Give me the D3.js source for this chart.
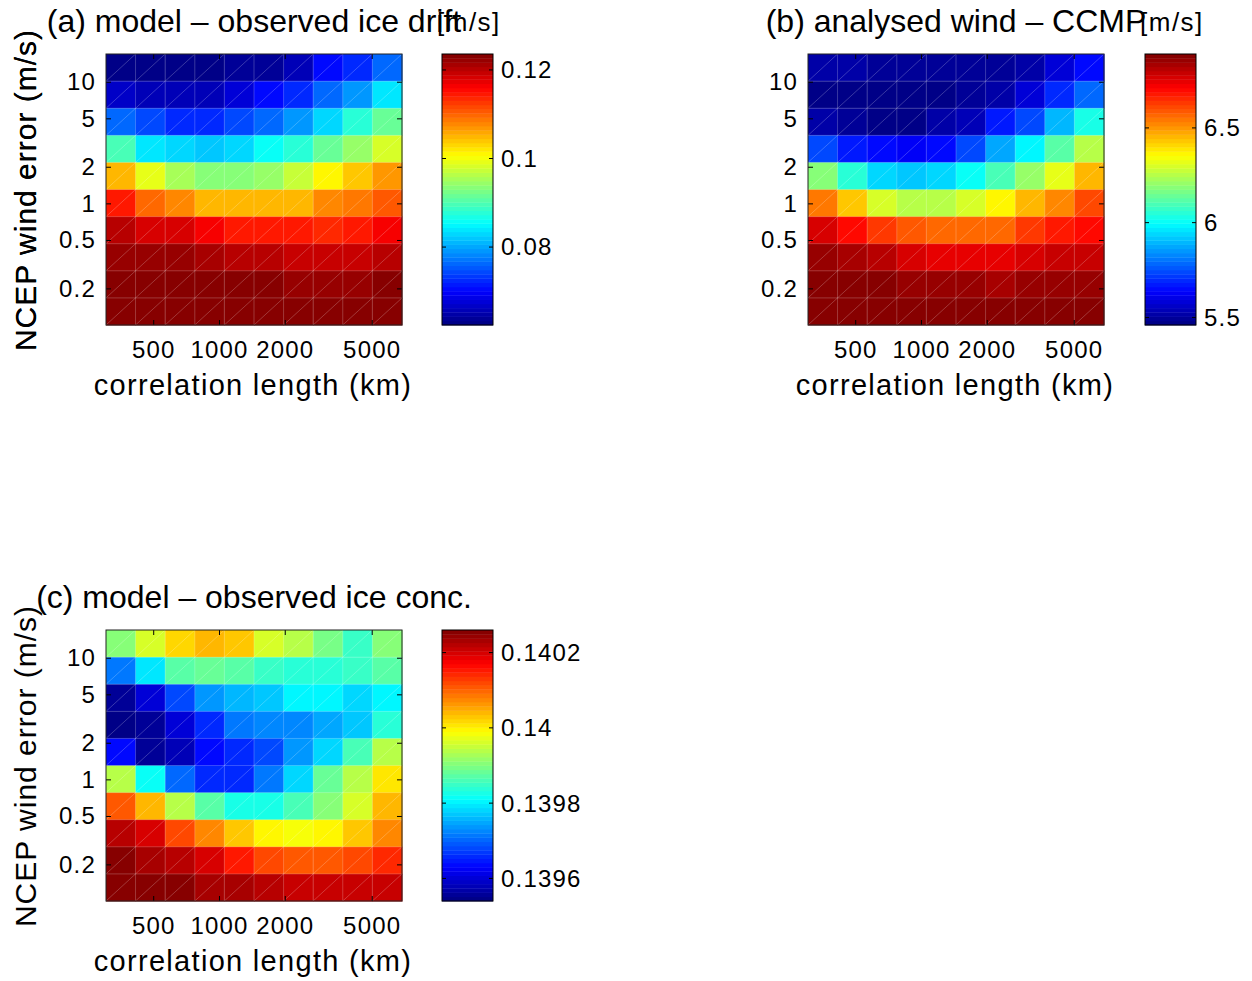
<!DOCTYPE html>
<html>
<head>
<meta charset="utf-8">
<script src="https://cdn.jsdelivr.net/npm/d3@7"></script>
<style>
body { margin: 0; background: #fff; }
svg text { font-family: "Liberation Sans", Arial, Helvetica, sans-serif; fill: #000; }
</style>
</head>
<body>
<svg width="1252" height="981"></svg>
<script>
// cell edges
var corrLengthEdges = [304, 415, 567, 775, 1058, 1446, 1975, 2698, 3685, 5034, 6880];
var windErrorEdges = [0.1, 0.167, 0.279, 0.466, 0.778, 1.299, 2.17, 3.62, 6.05, 10.1, 16.9];
var xTicks = [500, 1000, 2000, 5000];
var yTicks = [0.2, 0.5, 1, 2, 5, 10];

// rows listed from the top of the plot (largest wind error) down
var iceDrift = [
    [0.0624, 0.0630, 0.0624, 0.0624, 0.0636, 0.0642, 0.0661, 0.0701, 0.0728, 0.0759],
    [0.0667, 0.0661, 0.0661, 0.0655, 0.0673, 0.0701, 0.0722, 0.0759, 0.0795, 0.0835],
    [0.0759, 0.0740, 0.0722, 0.0722, 0.0740, 0.0759, 0.0795, 0.0826, 0.0875, 0.0912],
    [0.0893, 0.0835, 0.0826, 0.0817, 0.0832, 0.0854, 0.0881, 0.0912, 0.0948, 0.0985],
    [0.1046, 0.0991, 0.0958, 0.0939, 0.0939, 0.0948, 0.0976, 0.1007, 0.1037, 0.1065],
    [0.1141, 0.1101, 0.1083, 0.1052, 0.1052, 0.1052, 0.1052, 0.1080, 0.1092, 0.1111],
    [0.1199, 0.1187, 0.1181, 0.1160, 0.1141, 0.1141, 0.1141, 0.1135, 0.1144, 0.1160],
    [0.1218, 0.1218, 0.1218, 0.1208, 0.1199, 0.1199, 0.1193, 0.1193, 0.1196, 0.1199],
    [0.1236, 0.1236, 0.1236, 0.1230, 0.1227, 0.1227, 0.1224, 0.1218, 0.1224, 0.1227],
    [0.1236, 0.1230, 0.1230, 0.1236, 0.1236, 0.1236, 0.1230, 0.1236, 0.1236, 0.1236]
];
var windDiff = [
    [5.506, 5.506, 5.499, 5.492, 5.492, 5.492, 5.499, 5.520, 5.578, 5.642],
    [5.477, 5.463, 5.463, 5.463, 5.477, 5.492, 5.520, 5.578, 5.692, 5.793],
    [5.520, 5.492, 5.477, 5.477, 5.506, 5.549, 5.664, 5.750, 5.893, 6.022],
    [5.750, 5.664, 5.649, 5.628, 5.649, 5.750, 5.865, 5.979, 6.115, 6.245],
    [6.180, 6.051, 5.936, 5.915, 5.936, 6.001, 6.094, 6.201, 6.323, 6.452],
    [6.539, 6.431, 6.309, 6.259, 6.259, 6.288, 6.359, 6.452, 6.517, 6.603],
    [6.775, 6.696, 6.625, 6.582, 6.560, 6.560, 6.560, 6.625, 6.675, 6.696],
    [6.854, 6.832, 6.811, 6.775, 6.754, 6.754, 6.754, 6.768, 6.782, 6.797],
    [6.890, 6.875, 6.868, 6.854, 6.847, 6.847, 6.832, 6.847, 6.854, 6.854],
    [6.890, 6.883, 6.883, 6.890, 6.890, 6.890, 6.890, 6.883, 6.883, 6.883]
];
var iceConc = [
    [0.139902, 0.139966, 0.140019, 0.140041, 0.140026, 0.139966, 0.139934, 0.139891, 0.139844, 0.139902],
    [0.139709, 0.139798, 0.139869, 0.139880, 0.139869, 0.139844, 0.139837, 0.139837, 0.139844, 0.139869],
    [0.139559, 0.139602, 0.139680, 0.139734, 0.139759, 0.139773, 0.139802, 0.139802, 0.139780, 0.139802],
    [0.139545, 0.139559, 0.139602, 0.139659, 0.139709, 0.139723, 0.139727, 0.139745, 0.139773, 0.139837],
    [0.139634, 0.139559, 0.139584, 0.139634, 0.139659, 0.139680, 0.139734, 0.139787, 0.139859, 0.139934],
    [0.139934, 0.139812, 0.139702, 0.139659, 0.139663, 0.139709, 0.139787, 0.139880, 0.139934, 0.140008],
    [0.140112, 0.140041, 0.139941, 0.139869, 0.139823, 0.139823, 0.139859, 0.139902, 0.139962, 0.140044],
    [0.140215, 0.140194, 0.140123, 0.140069, 0.140026, 0.139991, 0.139980, 0.139991, 0.140026, 0.140069],
    [0.140251, 0.140237, 0.140219, 0.140201, 0.140158, 0.140123, 0.140112, 0.140112, 0.140123, 0.140147],
    [0.140258, 0.140258, 0.140251, 0.140237, 0.140233, 0.140215, 0.140212, 0.140212, 0.140212, 0.140208]
];

var driftRange = [0.0624, 0.1236];
var windRange = [5.46, 6.89];
var concRange = [0.139540, 0.140260];
var driftTicks = [0.08, 0.1, 0.12];
var windTicks = [5.5, 6, 6.5];
var concTicks = [0.1396, 0.1398, 0.14, 0.1402];

var svg = d3.select('svg');
svg.append('rect').attr('width', 1252).attr('height', 981).attr('fill', '#fff');

// matlab style jet with 64 levels
function jet(i, n) {
    var x = (i + 0.5) / n;
    function c(v) { return Math.max(0, Math.min(1, v)) * 255; }
    return d3.rgb(c(Math.min(4 * x - 1.5, -4 * x + 4.5)),
                  c(Math.min(4 * x - 0.5, -4 * x + 3.5)),
                  c(Math.min(4 * x + 0.5, -4 * x + 2.5))).toString();
}
var jetColors = d3.range(64).map(function(i){ return jet(i, 64); });

function colorFor(v, range) {
    var idx = Math.floor((v - range[0]) / (range[1] - range[0]) * 64);
    return jetColors[Math.max(0, Math.min(63, idx))];
}

function drawPanel(p) {
    var xScale = d3.scaleLog().domain([corrLengthEdges[0], corrLengthEdges[10]]).range([p.left, p.left + 296]);
    var yScale = d3.scaleLog().domain([windErrorEdges[0], windErrorEdges[10]]).range([p.top + 271, p.top]);
    var g = svg.append('g');

    // cells
    p.values.forEach(function(row, r) {
        row.forEach(function(v, c) {
            var x0 = xScale(corrLengthEdges[c]), x1 = xScale(corrLengthEdges[c + 1]);
            var yb = yScale(windErrorEdges[9 - r]), yt = yScale(windErrorEdges[10 - r]);
            g.append('rect')
                .attr('x', x0).attr('y', yt)
                .attr('width', x1 - x0 + 0.5).attr('height', yb - yt + 0.5)
                .attr('fill', colorFor(v, p.range));
        });
    });
    // faint mesh lines from the triangulated rendering
    var mesh = g.append('g').attr('stroke', 'rgba(255,255,255,0.28)').attr('stroke-width', 0.8).attr('fill', 'none');
    p.values.forEach(function(row, r) {
        row.forEach(function(v, c) {
            var x0 = xScale(corrLengthEdges[c]), x1 = xScale(corrLengthEdges[c + 1]);
            var yb = yScale(windErrorEdges[9 - r]), yt = yScale(windErrorEdges[10 - r]);
            mesh.append('line').attr('x1', x0).attr('y1', yb).attr('x2', x1).attr('y2', yt);
        });
    });
    corrLengthEdges.slice(1, 10).forEach(function(e) {
        mesh.append('line').attr('x1', xScale(e)).attr('x2', xScale(e)).attr('y1', p.top).attr('y2', p.top + 271);
    });
    windErrorEdges.slice(1, 10).forEach(function(e) {
        mesh.append('line').attr('y1', yScale(e)).attr('y2', yScale(e)).attr('x1', p.left).attr('x2', p.left + 296);
    });

    // axes, ticks inside on all four sides
    var xAxis = g.append('g').attr('transform', 'translate(0,' + (p.top + 271) + ')')
        .call(d3.axisBottom(xScale).tickValues(xTicks).tickFormat(d3.format('d')).tickSizeInner(-5).tickSizeOuter(0).tickPadding(16));
    g.append('g').attr('transform', 'translate(0,' + p.top + ')')
        .call(d3.axisTop(xScale).tickValues(xTicks).tickFormat('').tickSizeInner(-5).tickSizeOuter(0));
    var yAxis = g.append('g').attr('transform', 'translate(' + p.left + ',0)')
        .call(d3.axisLeft(yScale).tickValues(yTicks).tickFormat(function(d){ return String(d); }).tickSizeInner(-5).tickSizeOuter(0).tickPadding(10));
    g.append('g').attr('transform', 'translate(' + (p.left + 296) + ',0)')
        .call(d3.axisRight(yScale).tickValues(yTicks).tickFormat('').tickSizeInner(-5).tickSizeOuter(0));
    g.selectAll('.domain').remove();
    g.selectAll('.tick line').attr('stroke', '#000');
    xAxis.selectAll('text').style('font-size', '24px').style('letter-spacing', '1.2px').attr('fill', '#000');
    yAxis.selectAll('text').style('font-size', '24px').style('letter-spacing', '1.2px').attr('fill', '#000');

    g.append('rect').attr('x', p.left).attr('y', p.top).attr('width', 296).attr('height', 271)
        .attr('fill', 'none').attr('stroke', '#222').attr('stroke-width', 1);

    g.append('text').text('correlation length (km)')
        .attr('x', p.left + 147).attr('y', p.top + 341)
        .attr('text-anchor', 'middle').style('font-size', '29px').style('letter-spacing', '1.3px');
    g.append('text').text('NCEP wind error (m/s)')
        .attr('transform', 'translate(36,' + (p.top + 136) + ') rotate(-90)')
        .attr('text-anchor', 'middle').style('font-size', '30px').style('letter-spacing', '1px');
    g.append('text').text(p.title)
        .attr('x', p.left + 148).attr('y', p.top - 22)
        .attr('text-anchor', 'middle').style('font-size', '32px');

    // colorbar
    var cb = svg.append('g');
    var cbScale = d3.scaleLinear().domain(p.range).range([p.top + 271, p.top]);
    d3.range(64).forEach(function(i) {
        var v0 = p.range[0] + (p.range[1] - p.range[0]) * i / 64;
        var v1 = p.range[0] + (p.range[1] - p.range[0]) * (i + 1) / 64;
        cb.append('rect').attr('x', p.cbLeft).attr('width', 51)
            .attr('y', cbScale(v1)).attr('height', cbScale(v0) - cbScale(v1) + 0.4)
            .attr('fill', jetColors[i]);
    });
    p.ticks.forEach(function(t) {
        var ty = cbScale(t);
        cb.append('line').attr('x1', p.cbLeft).attr('x2', p.cbLeft + 4).attr('y1', ty).attr('y2', ty).attr('stroke', '#000');
        cb.append('line').attr('x1', p.cbLeft + 47).attr('x2', p.cbLeft + 51).attr('y1', ty).attr('y2', ty).attr('stroke', '#000');
        cb.append('text').text(String(t))
            .attr('x', p.cbLeft + 59).attr('y', ty).attr('dy', '0.35em')
            .style('font-size', '24px').style('letter-spacing', '1.2px');
    });
    cb.append('rect').attr('x', p.cbLeft).attr('y', p.top).attr('width', 51).attr('height', 271)
        .attr('fill', 'none').attr('stroke', '#000').attr('stroke-width', 1);
    if (p.unit) {
        cb.append('text').text(p.unit)
            .attr('x', p.cbLeft - 5).attr('y', p.top - 23)
            .style('font-size', '26px').style('letter-spacing', '1.5px');
    }
}

drawPanel({left: 106, top: 54, values: iceDrift, range: driftRange, ticks: driftTicks,
           title: '(a) model \u2013 observed ice drift', unit: '[m/s]', cbLeft: 442});
drawPanel({left: 808, top: 54, values: windDiff, range: windRange, ticks: windTicks,
           title: '(b) analysed wind \u2013 CCMP', unit: '[m/s]', cbLeft: 1145});
drawPanel({left: 106, top: 630, values: iceConc, range: concRange, ticks: concTicks,
           title: '(c) model \u2013 observed ice conc.', unit: null, cbLeft: 442});
</script>
</body>
</html>
